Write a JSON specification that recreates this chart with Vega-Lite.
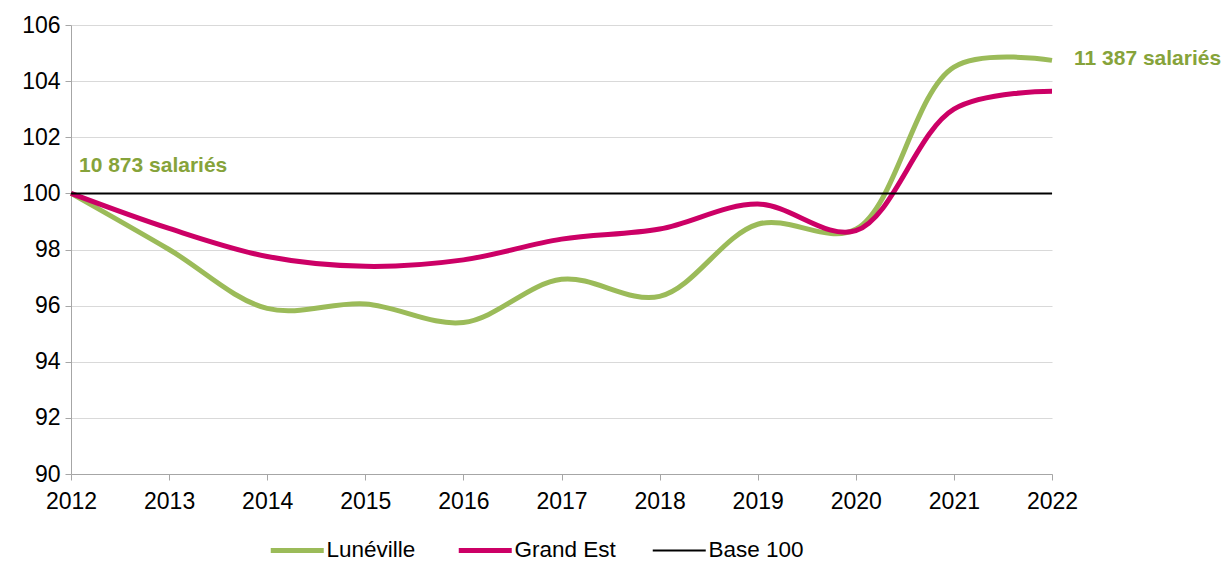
{
  "$schema": "https://vega.github.io/schema/vega-lite/v6.json",
  "width": 981,
  "height": 449,
  "autosize": {"type": "none"},
  "padding": {"left": 71, "top": 25, "right": 176, "bottom": 89},
  "background": "white",
  "config": {
    "view": {"stroke": null},
    "font": "Liberation Sans",
    "axis": {"labelFont": "Liberation Sans", "labelFontSize": 23, "labelColor": "#000000", "domainColor": "#a6a6a6", "tickColor": "#a6a6a6", "gridColor": "#d9d9d9"}
  },
  "layer": [
    {
      "data": {"values": [
        {"year": 2012, "value": 100, "series": "Lunéville"},
        {"year": 2013, "value": 98.0, "series": "Lunéville"},
        {"year": 2014, "value": 95.9, "series": "Lunéville"},
        {"year": 2015, "value": 96.06, "series": "Lunéville"},
        {"year": 2016, "value": 95.4, "series": "Lunéville"},
        {"year": 2017, "value": 96.94, "series": "Lunéville"},
        {"year": 2018, "value": 96.33, "series": "Lunéville"},
        {"year": 2019, "value": 98.9, "series": "Lunéville"},
        {"year": 2020, "value": 98.72, "series": "Lunéville"},
        {"year": 2021, "value": 104.5, "series": "Lunéville"},
        {"year": 2022, "value": 104.74, "series": "Lunéville"},
        {"year": 2012, "value": 100, "series": "Grand Est"},
        {"year": 2013, "value": 98.75, "series": "Grand Est"},
        {"year": 2014, "value": 97.75, "series": "Grand Est"},
        {"year": 2015, "value": 97.4, "series": "Grand Est"},
        {"year": 2016, "value": 97.63, "series": "Grand Est"},
        {"year": 2017, "value": 98.37, "series": "Grand Est"},
        {"year": 2018, "value": 98.73, "series": "Grand Est"},
        {"year": 2019, "value": 99.62, "series": "Grand Est"},
        {"year": 2020, "value": 98.67, "series": "Grand Est"},
        {"year": 2021, "value": 103.0, "series": "Grand Est"},
        {"year": 2022, "value": 103.64, "series": "Grand Est"},
        {"year": 2012, "value": 100, "series": "Base 100"},
        {"year": 2022, "value": 100, "series": "Base 100"}
      ]},
      "mark": {"type": "line", "interpolate": "catmull-rom", "strokeCap": "butt"},
      "encoding": {
        "x": {"field": "year", "type": "quantitative", "scale": {"domain": [2012, 2022], "nice": false, "zero": false},
              "axis": {"title": null, "values": [2012,2013,2014,2015,2016,2017,2018,2019,2020,2021,2022], "format": "d", "grid": false, "tickSize": 6, "labelPadding": 10, "labelFlush": false}},
        "y": {"field": "value", "type": "quantitative", "scale": {"domain": [90, 106], "nice": false, "zero": false},
              "axis": {"title": null, "values": [90,92,94,96,98,100,102,104,106], "grid": true, "tickSize": 6, "labelPadding": 5}},
        "color": {"field": "series", "type": "nominal", "title": null,
                  "scale": {"domain": ["Lunéville", "Grand Est", "Base 100"], "range": ["#9bbb59", "#cc0066", "#000000"]},
                  "legend": {"orient": "none", "legendX": 215, "legendY": 514, "direction": "horizontal", "symbolType": "stroke", "symbolSize": 2809, "symbolStrokeWidth": 5, "labelFontSize": 22.5, "labelFont": "Liberation Sans", "labelColor": "#000000", "columnPadding": 32, "labelOffset": 18, "title": null,
                             "encode": {"symbols": {"update": {"strokeWidth": {"signal": "datum.value === 'Base 100' ? 2 : 5"}}}}}},
        "strokeWidth": {"condition": {"test": "datum.series === 'Base 100'", "value": 2}, "value": 5},
        "order": {"field": "year", "type": "quantitative"}
      }
    },
    {
      "data": {"values": [
        {"year": 2012, "value": 100, "label": "10 873 salariés", "pos": "start"},
        {"year": 2022, "value": 104.74, "label": "11 387 salariés", "pos": "end"}
      ]},
      "transform": [{"filter": "datum.pos == 'start'"}],
      "mark": {"type": "text", "align": "left", "baseline": "middle", "dx": 8, "dy": -27, "fontSize": 21, "fontWeight": "bold", "font": "Liberation Sans", "color": "#86a33a"},
      "encoding": {
        "x": {"field": "year", "type": "quantitative"},
        "y": {"field": "value", "type": "quantitative"},
        "text": {"field": "label"}
      }
    },
    {
      "data": {"values": [
        {"year": 2012, "value": 100, "label": "10 873 salariés", "pos": "start"},
        {"year": 2022, "value": 104.74, "label": "11 387 salariés", "pos": "end"}
      ]},
      "transform": [{"filter": "datum.pos == 'end'"}],
      "mark": {"type": "text", "align": "left", "baseline": "middle", "dx": 22, "dy": -1, "fontSize": 21, "fontWeight": "bold", "font": "Liberation Sans", "color": "#86a33a"},
      "encoding": {
        "x": {"field": "year", "type": "quantitative"},
        "y": {"field": "value", "type": "quantitative"},
        "text": {"field": "label"}
      }
    }
  ]
}
